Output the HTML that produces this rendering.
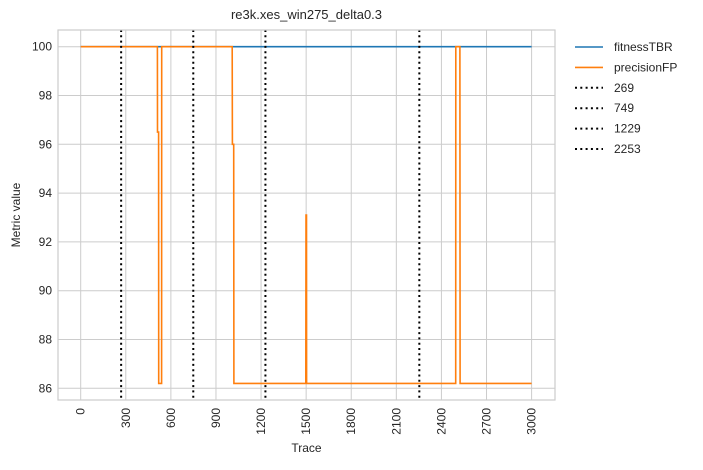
<!DOCTYPE html>
<html><head><meta charset="utf-8"><style>
body{margin:0;background:#fff;font-family:"Liberation Sans",sans-serif;}
svg text{font-family:"Liberation Sans",sans-serif;fill:#262626;}
</style></head><body>
<svg width="703" height="465">
<g id="grid"></g><g id="marks"></g><g id="axes"></g><g id="legend"></g>
</svg>
<script>
const xTicks=[0,300,600,900,1200,1500,1800,2100,2400,2700,3000];
const yTicks=[86,88,90,92,94,96,98,100];
const fitnessX=[0,3000];
const fitnessY=[100,100];
const precisionX=[0,510,511,518,519,538,539,1008,1009,1018,1019,1498,1499,1502,1503,2495,2496,2523,2524,3000];
const precisionY=[100,100,96.5,96.5,86.2,86.2,100,100,96,96,86.2,86.2,93.1,93.1,86.2,86.2,100,100,86.2,86.2];
const driftLines=[269,749,1229,2253];
const ns="http://www.w3.org/2000/svg";
const L=58,R=555,T=30,B=400;
const xs=v=>80.7+v*0.1503;
const ys=v=>46.7+(100-v)*24.4;
function mk(t,a,p){const e=document.createElementNS(ns,t);for(const k in a)e.setAttribute(k,a[k]);p.appendChild(e);return e;}
const G=document.getElementById('grid'),M=document.getElementById('marks'),A=document.getElementById('axes'),Lg=document.getElementById('legend');
xTicks.forEach(t=>{const l=mk('line',{x1:xs(t),x2:xs(t),y1:T,y2:B,stroke:'#cccccc','stroke-width':1},G);

const tx=mk('text',{x:0,y:0,'font-size':12,'text-anchor':'end',transform:`translate(${xs(t)+4},${B+8}) rotate(-90)`},A);tx.textContent=t;
});
yTicks.forEach(t=>{const l=mk('line',{x1:L,x2:R,y1:ys(t),y2:ys(t),stroke:'#cccccc','stroke-width':1},G);

const tx=mk('text',{x:L-6,y:ys(t)+4,'font-size':12,'text-anchor':'end'},A);tx.textContent=t;
});
const fr=mk('rect',{x:L,y:T,width:R-L,height:B-T,fill:'none',stroke:'#cccccc','stroke-width':1.2},A);

function stepPath(X,Y){let d='';for(let i=0;i<X.length;i++){d+=(i?'L':'M')+xs(X[i]).toFixed(1)+','+ys(Y[i]).toFixed(1);}return d;}
const fp=mk('path',{d:stepPath(fitnessX,fitnessY),stroke:'#1f77b4','stroke-width':1.6,fill:'none'},M);

const pp=mk('path',{d:stepPath(precisionX,precisionY),stroke:'#ff7f0e','stroke-width':1.6,fill:'none'},M);

driftLines.forEach(v=>{const l=mk('line',{x1:xs(v),x2:xs(v),y1:T,y2:B,stroke:'#000','stroke-width':2,'stroke-dasharray':'2,3.3'},M);
});
const title=mk('text',{x:(L+R)/2,y:19,'font-size':13,'text-anchor':'middle'},A);title.textContent='re3k.xes_win275_delta0.3';

const xt=mk('text',{x:(L+R)/2,y:452,'font-size':12,'text-anchor':'middle'},A);xt.textContent='Trace';

const yt=mk('text',{x:0,y:0,'font-size':12,'text-anchor':'middle',transform:`translate(20,${(T+B)/2}) rotate(-90)`},A);yt.textContent='Metric value';

const leg=[['fitnessTBR','#1f77b4',null],['precisionFP','#ff7f0e',null]].concat(driftLines.map(v=>[String(v),'#000','2,3.3']));
leg.forEach((e,i)=>{const y=47+i*20.4;
const l=mk('line',{x1:575,x2:603,y1:y,y2:y,stroke:e[1],'stroke-width':e[2]?2:1.6},Lg);if(e[2])l.setAttribute('stroke-dasharray',e[2]);
const t=mk('text',{x:614,y:y+4,'font-size':12},Lg);t.textContent=e[0];
});
</script>
</body></html>
